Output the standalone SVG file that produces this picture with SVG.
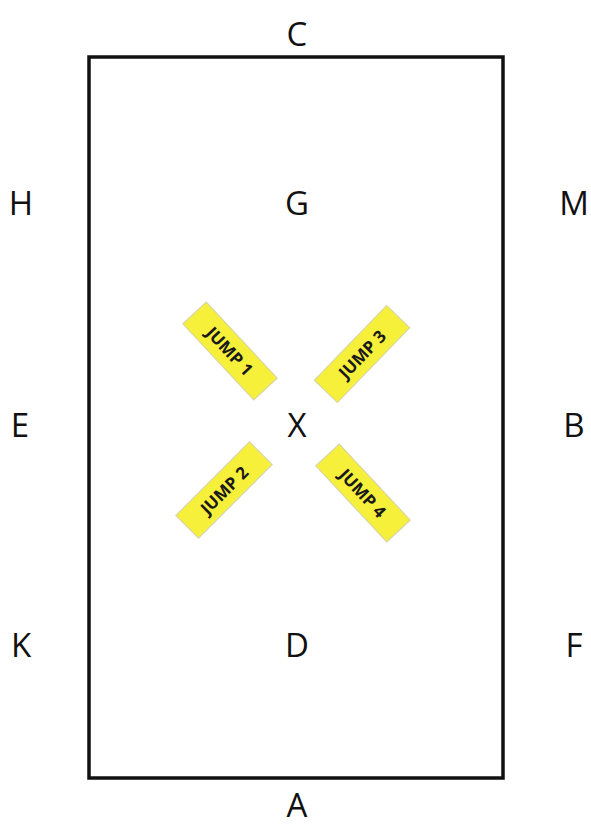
<svg xmlns="http://www.w3.org/2000/svg" width="591" height="828" viewBox="0 0 591 828">
<style>
.lbl{font-family:"Open Sans","Liberation Sans",sans-serif;font-size:33px;fill:#111;text-anchor:middle}
.jb{fill:#f7f03a;stroke:#d9d7a0;stroke-width:1.2}
.jt{font-family:"Open Sans","Liberation Sans",sans-serif;font-size:17px;font-weight:bold;fill:#1a1a1a;text-anchor:middle;dominant-baseline:central}
</style>
<rect width="591" height="828" fill="#fff"/>
<g id="arena"><rect x="89" y="57" width="414" height="721" fill="none" stroke="#111" stroke-width="3.5"/></g>
<g id="letters">
<g id="C"><text class="lbl" x="297" y="46">C</text></g>
<g id="H"><text class="lbl" x="21" y="215">H</text></g>
<g id="G"><text class="lbl" x="297" y="215">G</text></g>
<g id="M"><text class="lbl" x="574" y="215">M</text></g>
<g id="E"><text class="lbl" x="20" y="437">E</text></g>
<g id="X"><text class="lbl" x="297" y="437">X</text></g>
<g id="B"><text class="lbl" x="574" y="437">B</text></g>
<g id="K"><text class="lbl" x="21" y="657">K</text></g>
<g id="D"><text class="lbl" x="297" y="657">D</text></g>
<g id="F"><text class="lbl" x="574" y="657">F</text></g>
<g id="A"><text class="lbl" x="297" y="817">A</text></g>
</g>
<g id="jump1" transform="translate(230,351) rotate(47)"><rect class="jb" x="-52" y="-16" width="104" height="32"/><text class="jt" x="0" y="0">JUMP 1</text></g>
<g id="jump3" transform="translate(362,354) rotate(-46)"><rect class="jb" x="-52" y="-16" width="104" height="32"/><text class="jt" x="0" y="0">JUMP 3</text></g>
<g id="jump2" transform="translate(224,490) rotate(-45)"><rect class="jb" x="-52" y="-16" width="104" height="32"/><text class="jt" x="0" y="0">JUMP 2</text></g>
<g id="jump4" transform="translate(363,493) rotate(47)"><rect class="jb" x="-52" y="-16" width="104" height="32"/><text class="jt" x="0" y="0">JUMP 4</text></g>
</svg>
